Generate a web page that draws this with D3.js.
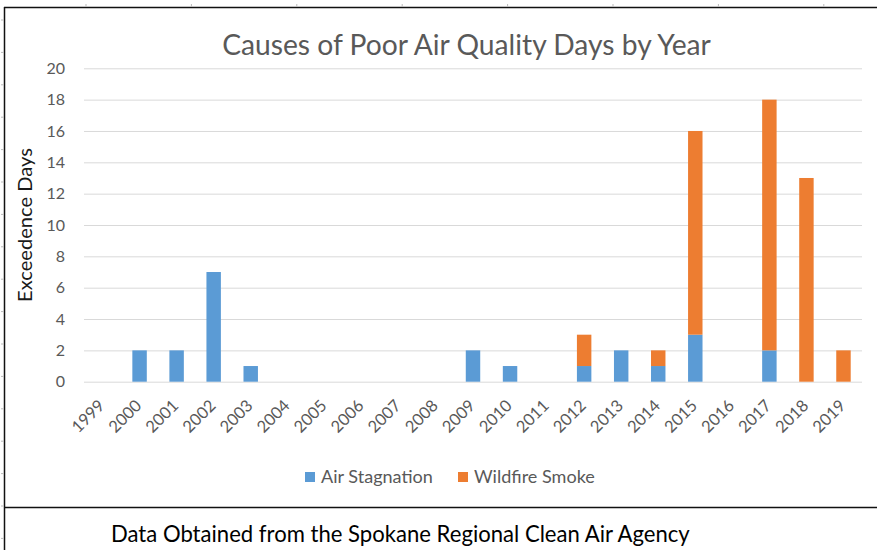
<!DOCTYPE html>
<html><head><meta charset="utf-8">
<script src="https://cdn.jsdelivr.net/npm/d3@7"></script>
<style>html,body{margin:0;padding:0;background:#fff;}svg{display:block;}</style>
</head><body>
<script>
const years = ["1999","2000","2001","2002","2003","2004","2005","2006","2007","2008","2009","2010","2011","2012","2013","2014","2015","2016","2017","2018","2019"];
const airStagnation = [0,2,2,7,1,0,0,0,0,0,2,1,0,1,2,1,3,0,2,0,0];
const wildfireSmoke = [0,0,0,0,0,0,0,0,0,0,0,0,0,2,0,1,13,0,16,13,2];
const seriesNames = ["Air Stagnation","Wildfire Smoke"];
const seriesColors = ["#5B9BD5","#ED7D31"];
const yTicks = [0,2,4,6,8,10,12,14,16,18,20];
const titleText = "Causes of Poor Air Quality Days by Year";
const yTitle = "Exceedence Days";
const footer = "Data Obtained from the Spokane Regional Clean Air Agency";

const W = 877, H = 550;
const FONT = "Lato, 'Open Sans', sans-serif";
const svg = d3.select("body").append("svg").attr("width", W).attr("height", H);

// frame lines
const frame = svg.append("g");
frame.append("line").attr("x1",4).attr("x2",W).attr("y1",7.5).attr("y2",7.5).attr("stroke","#111").attr("stroke-width",1.5);
frame.append("line").attr("x1",4.5).attr("x2",4.5).attr("y1",7).attr("y2",H).attr("stroke","#111").attr("stroke-width",1.5);
frame.append("line").attr("x1",4).attr("x2",W).attr("y1",507.5).attr("y2",507.5).attr("stroke","#111").attr("stroke-width",1.5);
// ruler marks
d3.range(8).forEach(i => {
  const x = 86 + i*105.4;
  frame.append("line").attr("x1",x).attr("x2",x).attr("y1",4).attr("y2",7).attr("stroke","#bbb");
});
d3.range(17).forEach(i => {
  const y = 20 + i*32.4;
  frame.append("line").attr("x1",1).attr("x2",4).attr("y1",y).attr("y2",y).attr("stroke","#bbb");
});

const m = {left:84, right:862, top:68.3, bottom:381.7};
const x = d3.scaleBand().domain(years).range([m.left, m.right]).paddingInner(0.61).paddingOuter(0.305);
const y = d3.scaleLinear().domain([0,20]).range([m.bottom, m.top]);

// gridlines
const yAxis = d3.axisLeft(y).tickValues(yTicks).tickSize(-(m.right-m.left)).tickPadding(19);
const gy = svg.append("g").attr("transform",`translate(${m.left},0)`).call(yAxis);
gy.select(".domain").remove();
gy.selectAll(".tick line").attr("stroke","#d9d9d9").attr("stroke-width",1);
gy.selectAll(".tick text").attr("fill","#595959").attr("font-family",FONT).attr("font-size",16);

// stacked bars
const data = years.map((yr,i)=>({year:yr, a:airStagnation[i], w:wildfireSmoke[i]}));
const stack = d3.stack().keys(["a","w"])(data);
svg.append("g").selectAll("g").data(stack).join("g")
  .attr("fill",(d,i)=>seriesColors[i])
  .selectAll("rect").data(d=>d.filter(v=>v[1]-v[0]>0)).join("rect")
  .attr("x",d=>x(d.data.year)).attr("width",x.bandwidth())
  .attr("y",d=>y(d[1])).attr("height",d=>y(d[0])-y(d[1]));

// x axis labels
const xAxis = d3.axisBottom(x).tickSize(0).tickPadding(0);
const gx = svg.append("g").attr("transform",`translate(0,${m.bottom})`).call(xAxis);
gx.select(".domain").remove();
gx.selectAll(".tick text").attr("fill","#595959").attr("font-family",FONT).attr("font-size",16.5)
  .attr("text-anchor","end").attr("dy",null)
  .attr("transform","translate(3,25) rotate(-45)");

function fit(sel, w){
  const n = sel.node(); const fs = +sel.attr("font-size");
  const len = n.getComputedTextLength();
  sel.attr("font-size", fs*w/len);
}

// title
const t = svg.append("text").attr("x",466.5).attr("y",55).attr("text-anchor","middle")
  .attr("fill","#595959").attr("font-family",FONT).attr("font-size",24).text(titleText);
fit(t, 489);

// y title
const yt = svg.append("text").attr("transform","translate(32,225) rotate(-90)").attr("text-anchor","middle")
  .attr("fill","#1a1a1a").attr("font-family",FONT).attr("font-size",17).text(yTitle);
fit(yt, 154);

// legend
const legX = [305, 458];
const legW = [112, 121];
const lg = svg.append("g");
seriesNames.forEach((nm,i)=>{
  lg.append("rect").attr("x",legX[i]).attr("y",472).attr("width",10).attr("height",10).attr("fill",seriesColors[i]);
  const lt = lg.append("text").attr("x",legX[i]+16).attr("y",483).attr("fill","#595959")
    .attr("font-family",FONT).attr("font-size",16).text(nm);
  fit(lt, legW[i]);
});

// footer
const ft = svg.append("text").attr("x",111).attr("y",542).attr("fill","#000")
  .attr("font-family",FONT).attr("font-size",21).text(footer);
fit(ft, 579);
</script>
</body></html>
